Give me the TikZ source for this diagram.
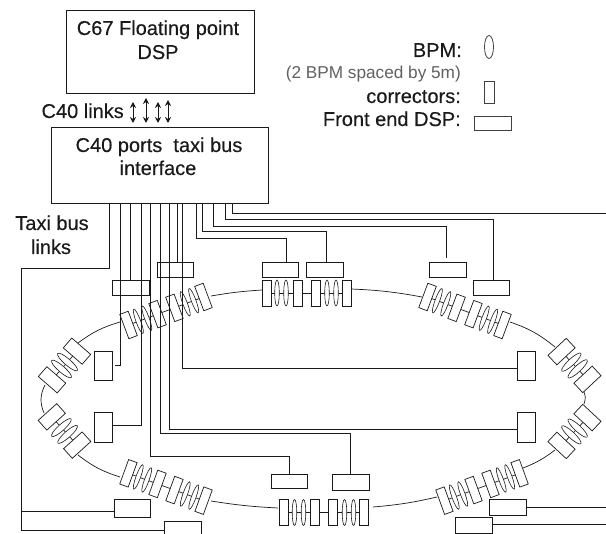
\documentclass[tikz,border=0pt]{standalone}
\usepackage{fontspec}
\setmainfont{Liberation Sans}
\newfontfamily\heavyfont[FakeBold=0.3]{Liberation Sans}
\usetikzlibrary{arrows.meta}
\definecolor{ink}{HTML}{1A1A1A}
\tikzset{
  x=1pt,y=-1pt,
  wire/.style={draw=ink,line width=0.9pt},
  ringline/.style={draw=ink,line width=0.7pt},
  corr/.style={draw=ink,line width=0.7pt,fill=white},
  bpm/.style={draw=ink,line width=0.6pt,fill=white},
  mainbox/.style={draw=ink,line width=0.9pt,inner sep=0pt},
  febox/.style={draw=ink,line width=0.9pt,inner sep=0pt,minimum width=37pt,minimum height=15pt},
  sidebox/.style={draw=ink,line width=0.9pt,inner sep=0pt,minimum width=18pt,minimum height=30pt},
  label/.style={inner sep=0pt,text=ink,font=\heavyfont\fontsize{20}{24}\selectfont},
  note/.style={inner sep=0pt,text=black!62,font=\fontsize{17.2}{20}\selectfont},
  link/.style={draw=ink,line width=1pt,{Stealth[length=6pt,width=6pt]}-{Stealth[length=6pt,width=6pt]}},
  pics/fullcell/.style={code={
    \draw[ringline] (-40,0) -- (40,0);
    \foreach \s in {-29.5,-20.5,20.5,29.5}{\draw[bpm] (\s,0) ellipse [x radius=2.3,y radius=13];}
    \foreach \s in {-40,-9,9,40}{\draw[corr] ({\s-4.5},-13) rectangle ({\s+4.5},13);}
  }},
  pics/halfcell/.style={code={
    \draw[ringline] (-19,0) -- (19,0);
    \foreach \s in {-4.6,4.6}{\draw[bpm] (\s,0) ellipse [x radius=3.2,y radius=13];}
    \foreach \s in {-19,19}{\draw[corr] ({\s-6.5},-12.5) rectangle ({\s+6.5},12.5);}
  }},
}
\begin{document}
\begin{tikzpicture}
\useasboundingbox (0,0) rectangle (606,534);
\clip (0,0) rectangle (606,534);
\fill[white] (0,0) rectangle (606,534);

% ring
\draw[ringline] (351,289) to[bend left=4] (422,297);
\draw[ringline] (211,296) to[bend left=3] (262,290);
\draw[ringline] (78,343) to[bend left=10] (120,322);
\draw[ringline] (510,322) to[bend left=10] (555,347);
\draw[ringline] (45,385) to[bend right=25] (44,413);
\draw[ringline] (583,390) to[bend left=25] (584,404);
\draw[ringline] (78,455) to[bend right=10] (120,477);
\draw[ringline] (211,501) to[bend right=3] (278,508);
\draw[ringline] (373,507) to[bend right=4] (437,497);
\draw[ringline] (523,468) to[bend right=8] (555,450);
\pic at (306.5,293) {fullcell};
\pic at (324,512.5) {fullcell};
\pic[rotate=20.5] at (166,311) {fullcell};
\pic[rotate=-20.5] at (465,311) {fullcell};
\pic[rotate=-20] at (166,487) {fullcell};
\pic[rotate=20] at (482,487) {fullcell};
\pic[rotate=49] at (64.5,365.5) {halfcell};
\pic[rotate=-48] at (64.5,431) {halfcell};
\pic[rotate=-47] at (574.5,365.5) {halfcell};
\pic[rotate=47] at (574.5,431.5) {halfcell};

% main boxes
\node[mainbox,minimum width=188pt,minimum height=83pt] (dsp) at (160,51.5) {};
\node[mainbox,minimum width=217pt,minimum height=76pt] (iface) at (159.5,165) {};
\node[label,anchor=base] (t1) at (158,35) {C67 Floating point};
\node[label,anchor=base] (t2) at (158,59) {DSP};
\node[label,anchor=base] (t3) at (159,152) {C40 ports\ \ taxi bus};
\node[label,anchor=base] (t4) at (158,175) {interface};
\node[label,anchor=base east] (t5) at (124,118) {C40 links};
\node[label,anchor=base] (t6) at (52,230) {Taxi bus};
\node[label,anchor=base] (t7) at (51,254) {links};

% C40 links
\coordinate (la1) at (133,102); \coordinate (lb1) at (133,123);
\coordinate (la2) at (146,98);  \coordinate (lb2) at (146,123);
\coordinate (la3) at (158,102); \coordinate (lb3) at (158,123);
\coordinate (la4) at (168,100); \coordinate (lb4) at (168,123);
\foreach \i in {1,2,3,4}{\draw[link] (la\i) -- (lb\i);}

% legend
\node[label,anchor=base east] (l1) at (462,57) {BPM:};
\node[note,anchor=base east] (l2) at (461,79) {(2 BPM spaced by 5m)};
\node[label,anchor=base east] (l3) at (461,103) {correctors:};
\node[label,anchor=base east] (l4) at (461,126) {Front end DSP:};
\draw[bpm,draw=black!75,line width=0.8pt] (489,47) ellipse [x radius=4.5,y radius=11.5];
\draw[draw=black!75,line width=0.8pt] (484,81) rectangle (494,103);
\node[febox,minimum height=14pt,draw=black!75,line width=0.8pt] (legfe) at (492.5,123) {};

% front end boxes
\node[febox] (fe1) at (131,287.5) {};
\node[febox,minimum width=36pt] (fe2) at (175,269.5) {};
\node[febox,minimum width=36pt] (fe3) at (280,269.5) {};
\node[febox] (fe4) at (324.5,269.5) {};
\node[febox] (fe5) at (447.5,269.5) {};
\node[febox,minimum width=36pt] (fe6) at (491,287.5) {};
\node[febox,minimum width=36pt,minimum height=14pt] (fe7) at (289,481) {};
\node[febox,minimum height=16pt] (fe8) at (350.5,482) {};
\node[febox,minimum width=36pt,minimum height=18pt] (fe9) at (132,508) {};
\node[febox,minimum height=18pt] (fe10) at (182.5,530) {};
\node[febox,minimum height=16pt] (fe11) at (507.5,507) {};
\node[febox,minimum height=16pt] (fe12) at (473.5,525) {};
\node[sidebox,minimum height=29pt] (c1) at (103,365.5) {};
\node[sidebox] (c2) at (103,427) {};
\node[sidebox,minimum height=29pt] (c3) at (526.5,365.5) {};
\node[sidebox] (c4) at (526.5,427) {};

% taxi bus wires
\coordinate (tee) at (21.5,511);
\draw[wire] (iface.south -| 109,0) -- (109,268) -- (21.5,268) -- (21.5,530) -- (fe10.west);
\draw[wire] (tee) -- ([yshift=-3pt]fe9.west);
\coordinate (gap1) at (115,365);
\draw[wire] (iface.south -| 120,0) |- (gap1);
\draw[wire] (iface.south -| 130,0) -- ([xshift=-1pt]fe1.north);
\draw[wire] (iface.south -| 141,0) |- ([yshift=2pt]c2.east);
\draw[wire] (iface.south -| 150,0) -- (150,456) -| (fe7.north);
\draw[wire] (iface.south -| 160,0) -- (160,433) -| (fe8.north);
\draw[wire] (iface.south -| 169,0) |- ([yshift=-2pt]c4.west);
\draw[wire] (iface.south -| 177,0) -- ([xshift=2pt]fe2.north);
\draw[wire] (iface.south -| 182,0) |- ([yshift=-2.5pt]c3.west);
\draw[wire] (iface.south -| 196,0) -- (196,238) -| ([xshift=6pt]fe3.north);
\draw[wire] (iface.south -| 202,0) -- (202,231) -| ([xshift=1.5pt]fe4.north);
\coordinate (gap5) at (446,258);
\draw[wire] (iface.south -| 213,0) -- (213,226) -| (gap5);
\draw[wire] (iface.south -| 225,0) -- (225,219) -| ([xshift=2pt]fe6.north);
\coordinate (out1) at (606,213);
\draw[wire] (iface.south -| 232,0) |- (out1);
\coordinate (out2) at (606,507);
\coordinate (out3) at (606,524);
\draw[wire] (fe11.east) -- (out2);
\draw[wire] (fe12.east |- out3) -- (out3);
\end{tikzpicture}
\end{document}
